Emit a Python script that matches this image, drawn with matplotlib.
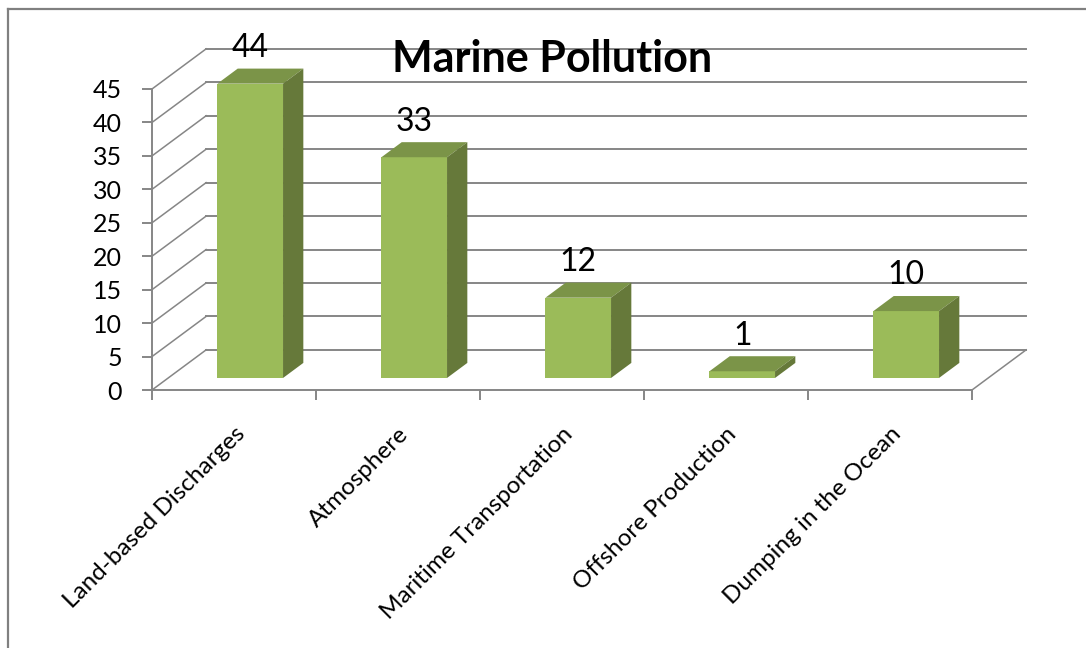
import matplotlib
matplotlib.use("Agg")
import matplotlib.pyplot as plt
from matplotlib.lines import Line2D
from matplotlib.patches import Polygon, Rectangle

# Dati
categories = [
    "Land-based Discharges",
    "Atmosphere",
    "Maritime Transportation",
    "Offshore Production",
    "Dumping in the Ocean",
]
values = [44, 33, 12, 1, 10]
y_ticks = [0, 5, 10, 15, 20, 25, 30, 35, 40, 45]
title = "Marine Pollution"

FONT = ["Lato", "DejaVu Sans"]
GRID = "#868686"
FRONT = "#9bbb59"
TOP = "#7b9448"
SIDE = "#66793a"

# pseudo-3D: vettore di profondità in unità dati
DX, DY = 0.33, 6.0
BAR_W = 0.40
D_FRONT, D_BACK = 0.30, 0.675

plt.rcParams["font.family"] = FONT

fig = plt.figure(figsize=(10.86, 6.48), dpi=100)
ax = fig.add_axes([152 / 1086, 1 - 390 / 648, 820 / 1086, 301 / 648])
ax.set_xlim(0, len(categories))
ax.set_ylim(y_ticks[0], y_ticks[-1])
ax.patch.set_visible(False)

for name in ("top", "right"):
    ax.spines[name].set_visible(False)
for name in ("left", "bottom"):
    ax.spines[name].set_color(GRID)
    ax.spines[name].set_linewidth(1.4)

# griglia sulla parete di fondo e sulla parete laterale
for v in y_ticks:
    ax.plot([DX, len(categories) + DX], [v + DY, v + DY], color=GRID, lw=1.4,
            clip_on=False, zorder=1)
    ax.plot([0, DX], [v, v + DY], color=GRID, lw=1.1, clip_on=False, zorder=1)
ax.plot([len(categories), len(categories) + DX], [0, DY], color=GRID, lw=1.1,
        clip_on=False, zorder=1)

ax.set_yticks(y_ticks)
ax.tick_params(axis="y", direction="out", length=7.5, width=1.4, color=GRID,
               pad=14, labelsize=18)
ax.set_xticks(range(len(categories) + 1))
ax.set_xticklabels([])
ax.tick_params(axis="x", which="major", direction="out", length=7.5, width=1.4,
               color=GRID)
ax.set_xticks([i + 0.5 for i in range(len(categories))], minor=True)
ax.set_xticklabels(categories, minor=True, rotation=45, ha="right",
                   rotation_mode="anchor", fontsize=17.5)
ax.tick_params(axis="x", which="minor", length=0, pad=24)

dd = D_BACK - D_FRONT
for i, v in enumerate(values):
    x0 = i + 0.5 - BAR_W / 2 + D_FRONT * DX
    x1 = x0 + BAR_W
    y0 = D_FRONT * DY
    y1 = y0 + v
    ax.add_patch(Rectangle((x0, y0), BAR_W, v, facecolor=FRONT, edgecolor="none",
                           clip_on=False, zorder=3))
    ax.add_patch(Polygon([(x0, y1), (x1, y1), (x1 + dd * DX, y1 + dd * DY),
                          (x0 + dd * DX, y1 + dd * DY)], closed=True,
                         facecolor=TOP, edgecolor="none", clip_on=False, zorder=3))
    ax.add_patch(Polygon([(x1, y0), (x1, y1), (x1 + dd * DX, y1 + dd * DY),
                          (x1 + dd * DX, y0 + dd * DY)], closed=True,
                         facecolor=SIDE, edgecolor="none", clip_on=False, zorder=3))
    ax.annotate(str(v), xy=((x0 + x1) / 2, y1 + dd * DY), xytext=(0, 4),
                textcoords="offset points", ha="center", va="bottom",
                fontsize=23, annotation_clip=False, zorder=4)

fig.text(552 / 1086, 1 - 59 / 648, title, ha="center", va="center",
         fontsize=31, fontweight="bold")

# cornice del grafico (solo bordo superiore e sinistro visibili)
fig.add_artist(Line2D([8 / 1086, 1], [1 - 9 / 648, 1 - 9 / 648], color="#808080",
                      lw=1.6))
fig.add_artist(Line2D([8 / 1086, 8 / 1086], [0, 1 - 9 / 648], color="#808080",
                      lw=1.6))

fig.savefig("out.png", dpi=100, facecolor="white")
